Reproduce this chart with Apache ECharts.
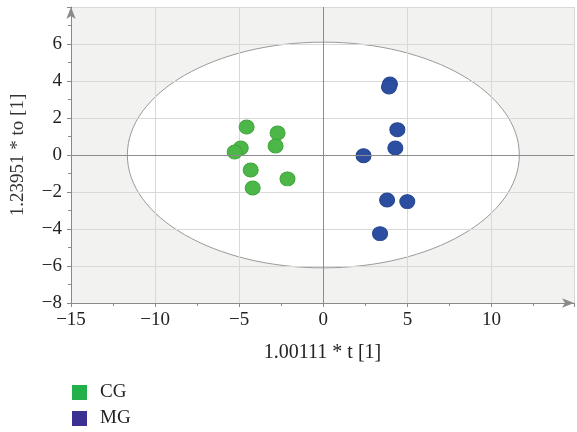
<!DOCTYPE html>
<html>
<head>
<meta charset="utf-8">
<script src="https://cdn.jsdelivr.net/npm/echarts@6/dist/echarts.min.js"></script>
<style>
  html, body { margin: 0; padding: 0; background: #fff; }
  #chart { width: 577px; height: 432px; }
</style>
</head>
<body>
<div id="chart"></div>
<script>
// Score plot: t[1] vs to[1] for two groups
const cgScores = [
  [-4.56, 1.51], [-2.72, 1.19], [-4.91, 0.38], [-5.27, 0.16],
  [-2.84, 0.49], [-4.32, -0.81], [-4.20, -1.78], [-2.13, -1.29]
];
const mgScores = [
  [3.96, 3.84], [3.90, 3.68], [4.40, 1.37], [4.28, 0.38],
  [2.39, -0.04], [3.79, -2.43], [4.99, -2.52], [3.37, -4.25]
];
// Hotelling T2 ellipse semi-axes (t, to)
const ellipseRadii = [11.65, 6.1];
const xTicks = [-15, -10, -5, 0, 5, 10];
const yTicks = [-8, -6, -4, -2, 0, 2, 4, 6];

const serif = '"Liberation Serif", "DejaVu Serif", serif';
const minus = v => String(v).replace('-', '\u2212');

const chart = echarts.init(document.getElementById('chart'), null, { renderer: 'canvas' });

chart.setOption({
  animation: false,
  grid: { left: 71, right: 0, top: 7, bottom: 129, containLabel: false },
  legend: {
    orient: 'vertical',
    left: 72,
    top: 383,
    height: 80,
    padding: 0,
    itemWidth: 15,
    itemHeight: 15,
    itemGap: 7,
    icon: 'rect',
    textStyle: { fontFamily: serif, fontSize: 19, lineHeight: 15, color: '#222', padding: [0, 0, 0, 8] },
    data: [
      { name: 'CG', itemStyle: { color: '#22b04b', borderWidth: 0 } },
      { name: 'MG', itemStyle: { color: '#3a3193', borderWidth: 0 } }
    ]
  },
  xAxis: {
    type: 'value',
    min: -15, max: 14.9, interval: 5,
    name: '1.00111 * t [1]',
    nameLocation: 'middle',
    nameGap: 40,
    nameTextStyle: { fontFamily: serif, fontSize: 20, color: '#222' },
    axisLine: { onZero: false, lineStyle: { color: '#8a8a8a', width: 1 }, symbol: ['none', 'arrow'], symbolSize: [7, 12] },
    axisTick: { show: true, length: 4, inside: false, lineStyle: { color: '#8a8a8a' } },
    minorTick: { show: true, splitNumber: 2, length: 3, lineStyle: { color: '#8a8a8a' } },
    axisLabel: {
      margin: 8, fontFamily: serif, fontSize: 19, color: '#222',
      formatter: v => (xTicks.indexOf(v) >= 0 ? minus(v) : '')
    },
    splitLine: { show: true, lineStyle: { color: '#d9d9d9', width: 1 } }
  },
  yAxis: {
    type: 'value',
    min: -8, max: 8, interval: 2,
    name: '1.23951 * to [1]',
    nameLocation: 'middle',
    nameGap: 43,
    nameTextStyle: { fontFamily: serif, fontSize: 19, color: '#333' },
    axisLine: { onZero: false, lineStyle: { color: '#8a8a8a', width: 1 }, symbol: ['none', 'arrow'], symbolSize: [7, 12] },
    axisTick: { show: true, length: 4, lineStyle: { color: '#8a8a8a' } },
    minorTick: { show: true, splitNumber: 2, length: 3, lineStyle: { color: '#8a8a8a' } },
    axisLabel: {
      margin: 9, fontFamily: serif, fontSize: 19, color: '#222',
      formatter: v => (yTicks.indexOf(v) >= 0 && v !== 8 ? minus(v) : '')
    },
    splitLine: { show: true, lineStyle: { color: '#d9d9d9', width: 1 } }
  },
  series: [
    {
      // shaded plot area with the confidence ellipse cut out in white
      type: 'custom',
      z: -1,
      silent: true,
      clip: false,
      data: [[0, 0]],
      renderItem: (params, api) => {
        const cs = params.coordSys;
        const c = api.coord([api.value(0), api.value(1)]);
        const s = api.size(ellipseRadii);
        return {
          type: 'group',
          children: [
            { type: 'rect', shape: { x: cs.x, y: cs.y, width: cs.width, height: cs.height },
              style: { fill: '#f2f2f1' } },
            { type: 'ellipse', shape: { cx: c[0], cy: c[1], rx: s[0], ry: s[1] },
              style: { fill: '#ffffff', stroke: '#9a9a9a', lineWidth: 1 } }
          ]
        };
      }
    },
    {
      // zero reference lines
      type: 'line',
      data: [],
      z: 1,
      silent: true,
      markLine: {
        silent: true,
        symbol: 'none',
        label: { show: false },
        lineStyle: { color: '#8c8c8c', type: 'solid', width: 1 },
        data: [{ xAxis: 0 }, { yAxis: 0 }]
      }
    },
    {
      name: 'CG',
      type: 'scatter',
      z: 3,
      symbolSize: [15, 14],
      itemStyle: { color: '#4cb648', borderColor: '#3ea53a', borderWidth: 1, opacity: 1 },
      data: cgScores
    },
    {
      name: 'MG',
      type: 'scatter',
      z: 3,
      symbolSize: [15, 14],
      itemStyle: { color: '#2b4ea1', borderColor: '#25458f', borderWidth: 1, opacity: 1 },
      data: mgScores
    }
  ]
});
</script>
</body>
</html>
